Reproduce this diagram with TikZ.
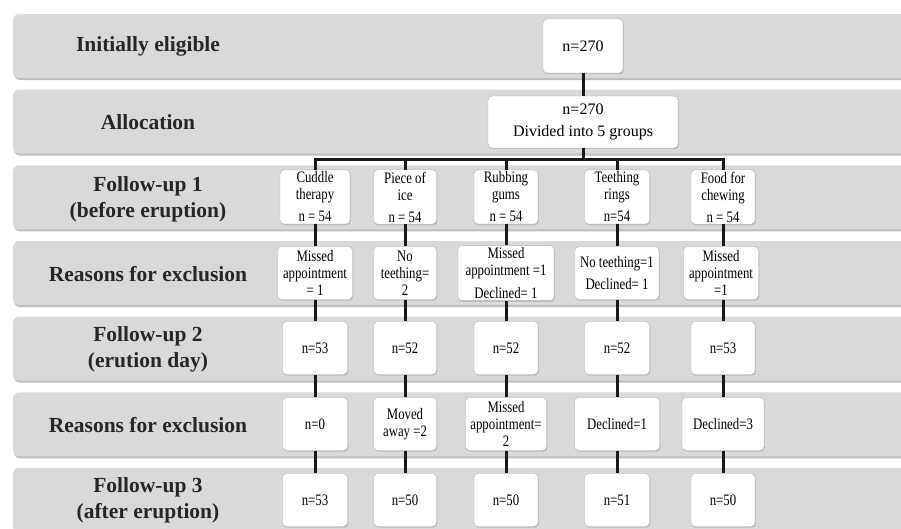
\documentclass[tikz,border=0pt]{standalone}
\usepackage{fontspec}
\setmainfont{Liberation Serif}
\newfontfamily\narrowfont[FakeStretch=0.8]{Liberation Serif}
\usepackage{xcolor}
\usepackage{tikz}
\usetikzlibrary{positioning}
\usetikzlibrary{shadows}

\definecolor{bandgray}{RGB}{217,217,217}
\definecolor{bandedge}{RGB}{190,190,190}
\definecolor{labeltext}{RGB}{38,38,38}

\tikzset{
  band/.style={fill=bandgray, rounded corners=6pt},
  bandshadow/.style={fill=bandedge, rounded corners=6pt},
  steplabel/.style={font=\fontsize{21.5}{26}\selectfont\bfseries, align=center, text=labeltext},
  topbox/.style={draw=black!30, fill=white, rounded corners=4pt, align=center, inner sep=2pt,
    font=\fontsize{16}{17}\selectfont,
    drop shadow={shadow xshift=0.8pt, shadow yshift=-1.2pt, fill=black!35, opacity=0.6}},
  groupbox/.style={topbox, font=\narrowfont\fontsize{16}{17}\selectfont, minimum width=63pt, minimum height=53pt},
  link/.style={line width=3pt, color=black!90}
}

\begin{document}
\begin{tikzpicture}[x=1pt,y=-1pt]
\useasboundingbox (0,0) rectangle (901,528);
\clip (0,0) rectangle (901,528);

% bands
\foreach \i in {0,...,6} {
  \fill[bandshadow] (14,{14+75.67*\i+2}) rectangle (915,{14+75.67*\i+66});
  \fill[band] (13,{14+75.67*\i}) rectangle (915,{14+75.67*\i+64});
}

% row labels
\node[steplabel] (lab1) at (148,46) {Initially eligible};
\node[steplabel] (lab2) at (148,122) {Allocation};
\node[steplabel] (lab3) at (148,199) {Follow-up 1\\(before eruption)};
\node[steplabel] (lab4) at (148,274) {Reasons for exclusion};
\node[steplabel] (lab5) at (148,349) {Follow-up 2\\(erution day)};
\node[steplabel] (lab6) at (148,425) {Reasons for exclusion};
\node[steplabel] (lab7) at (148,500) {Follow-up 3\\(after eruption)};

% top boxes
\node[topbox, minimum width=80pt, minimum height=54pt] (elig) at (583,46) {n=270};
\node[topbox, minimum width=190pt, minimum height=52pt] (alloc) at (583,122) {n=270\\[5pt]Divided into 5 groups};

% follow-up 1
\node[groupbox, minimum width=70pt] (cud1) at (315,197) {Cuddle\\therapy\\[5pt]n = 54};
\node[groupbox] (ice1) at (405,197) {Piece of\\ice\\[5pt]n = 54};
\node[groupbox, minimum width=64pt] (rub1) at (506,197) {Rubbing\\gums\\[5pt]n = 54};
\node[groupbox, minimum width=65pt] (rin1) at (617,197) {Teething\\rings\\[5pt]n=54};
\node[groupbox, minimum width=64pt] (foo1) at (723,197) {Food for\\chewing\\[5pt]n = 54};

% reasons for exclusion 1
\node[groupbox, minimum width=75pt] (cud2) at (315,273) {Missed\\appointment\\= 1};
\node[groupbox] (ice2) at (405,273) {No\\teething=\\2};
\node[groupbox, minimum width=96pt] (rub2) at (506,273) {Missed\\appointment =1\\[6pt]Declined= 1};
\node[groupbox, minimum width=84pt] (rin2) at (617,273) {No teething=1\\[5pt]Declined= 1};
\node[groupbox, minimum width=75pt] (foo2) at (721,273) {Missed\\appointment\\=1};

% follow-up 2
\node[groupbox, minimum width=65pt] (cud3) at (315,348) {n=53};
\node[groupbox] (ice3) at (405,348) {n=52};
\node[groupbox, minimum width=64pt] (rub3) at (506,348) {n=52};
\node[groupbox, minimum width=65pt] (rin3) at (617,348) {n=52};
\node[groupbox, minimum width=64pt] (foo3) at (723,348) {n=53};

% reasons for exclusion 2
\node[groupbox, minimum width=65pt] (cud4) at (315,424) {n=0};
\node[groupbox] (ice4) at (405,424) {Moved\\away =2};
\node[groupbox, minimum width=81pt] (rub4) at (506,424) {Missed\\appointment=\\2};
\node[groupbox, minimum width=85pt] (rin4) at (617,424) {Declined=1};
\node[groupbox, minimum width=82pt] (foo4) at (723,424) {Declined=3};

% follow-up 3
\node[groupbox, minimum width=65pt] (cud5) at (315,500) {n=53};
\node[groupbox] (ice5) at (405,500) {n=50};
\node[groupbox, minimum width=64pt] (rub5) at (506,500) {n=50};
\node[groupbox, minimum width=65pt] (rin5) at (617,500) {n=51};
\node[groupbox, minimum width=64pt] (foo5) at (723,500) {n=50};

% connectors
\coordinate (bus) at (583,159);
\draw[link] (elig) -- (alloc);
\draw[link] (alloc.south) -- (bus);
\draw[link] (cud1.north) |- (bus) -| (foo1.north);
\foreach \c in {ice,rub,rin}
  \draw[link] (\c1.north) -- (\c1.north |- bus);
\foreach \c in {cud,ice,rub,rin,foo} {
  \draw[link] (\c1.south) -- (\c1.south |- \c2.north);
  \draw[link] (\c2.south -| \c1.south) -- (\c3.north);
  \draw[link] (\c3) -- (\c4);
  \draw[link] (\c4.south -| \c3.south) -- (\c5.north);
}

\end{tikzpicture}
\end{document}
